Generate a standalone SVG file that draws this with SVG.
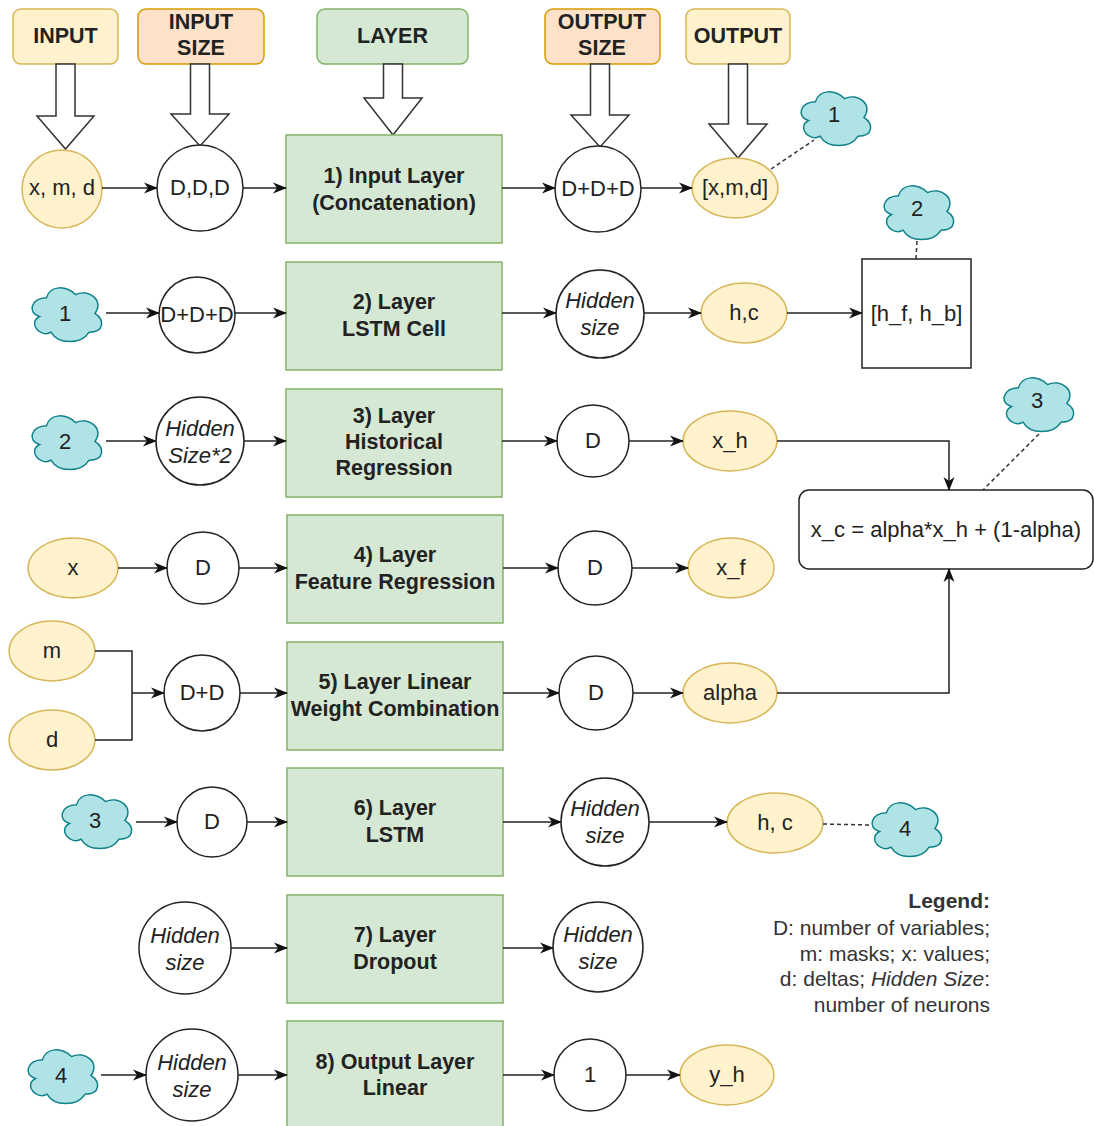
<svg xmlns="http://www.w3.org/2000/svg" width="1094" height="1126" viewBox="0 0 1094 1126">
<style>
text{font-family:"Liberation Sans",Arial,sans-serif;fill:#222;dominant-baseline:central;text-anchor:middle}
.t{font-size:22px}
.b{font-size:21.5px;font-weight:bold}
.h{font-size:21.5px;font-weight:bold}
.i{font-style:italic}
.hdrY{fill:#fff2cc;stroke:#d6b656;stroke-width:1.5}
.hdrO{fill:#fde2c9;stroke:#d79b00;stroke-width:1.5}
.hdrG{fill:#d5e8d4;stroke:#82b366;stroke-width:1.5}
.layer{fill:#d5e8d4;stroke:#82b366;stroke-width:1.5}
.ell{fill:#fff2cc;stroke:#d6b656;stroke-width:1.5}
.circ{fill:#fff;stroke:#222;stroke-width:1.5}
.box{fill:#fff;stroke:#222;stroke-width:1.5}
.cloud{fill:#b0e3e6;stroke:#0e8088;stroke-width:1.5}
.blk{fill:#fff;stroke:#333;stroke-width:1.5}
.c{fill:none;stroke:#222;stroke-width:1.5}
.d{fill:none;stroke:#333;stroke-width:1.5;stroke-dasharray:4 3}
.lg{font-size:21px;text-anchor:end;fill:#333}
</style>
<defs>
<marker id="arr" viewBox="0 0 14 12" refX="13" refY="6" markerWidth="14" markerHeight="12" orient="auto" markerUnits="userSpaceOnUse">
<path d="M0,0.5 L14,6 L0,11.5 L4,6 Z" fill="#111"/>
</marker>
<path id="cl" d="M20 16 C4 16 0 32 12.8 35.2 C0 42.24 14.4 57.6 24.8 51.2 C32 64 56 64 64 51.2 C80 51.2 80 38.4 70 32 C80 19.2 64 6.4 50 12.8 C40 3.2 24 3.2 20 16 Z"/>
</defs>

<!-- headers -->
<g id="hdr-input"><rect class="hdrY" x="13" y="9" width="105" height="55" rx="8"/><text class="h" x="65.5" y="36">INPUT</text></g>
<g id="hdr-input-size"><rect class="hdrO" x="138" y="9" width="126" height="55" rx="8"/><text class="h" x="201" y="22">INPUT</text><text class="h" x="201" y="48">SIZE</text></g>
<g id="hdr-layer"><rect class="hdrG" x="317" y="9" width="151" height="55" rx="8"/><text class="h" x="392.5" y="36">LAYER</text></g>
<g id="hdr-output-size"><rect class="hdrO" x="545" y="9" width="115" height="55" rx="8"/><text class="h" x="602" y="22">OUTPUT</text><text class="h" x="602" y="48">SIZE</text></g>
<g id="hdr-output"><rect class="hdrY" x="686" y="9" width="104" height="55" rx="8"/><text class="h" x="738" y="36">OUTPUT</text></g>

<!-- block arrows -->
<g id="block-arrows">
<polygon class="blk" points="56,64 75,64 75,116 94,116 65.5,149 37,116 56,116"/>
<polygon class="blk" points="190.5,64 209.5,64 209.5,114 229,114 200,146 171,114 190.5,114"/>
<polygon class="blk" points="383.5,64 402.5,64 402.5,98 422,98 393,135 364,98 383.5,98"/>
<polygon class="blk" points="590.5,64 609.5,64 609.5,115 629,115 600,147 571,115 590.5,115"/>
<polygon class="blk" points="728.5,64 747.5,64 747.5,124 767,124 738,158 709,124 728.5,124"/>
</g>

<!-- layers -->
<g id="layer1"><rect class="layer" x="286" y="135" width="216" height="108"/><text class="b" x="394" y="176">1) Input Layer</text><text class="b" x="394" y="203">(Concatenation)</text></g>
<g id="layer2"><rect class="layer" x="286" y="262" width="216" height="108"/><text class="b" x="394" y="302">2) Layer</text><text class="b" x="394" y="329">LSTM Cell</text></g>
<g id="layer3"><rect class="layer" x="286" y="389" width="216" height="108"/><text class="b" x="394" y="416">3) Layer</text><text class="b" x="394" y="442">Historical</text><text class="b" x="394" y="468">Regression</text></g>
<g id="layer4"><rect class="layer" x="287" y="515" width="216" height="108"/><text class="b" x="395" y="555">4) Layer</text><text class="b" x="395" y="582">Feature Regression</text></g>
<g id="layer5"><rect class="layer" x="287" y="642" width="216" height="108"/><text class="b" x="395" y="682">5) Layer Linear</text><text class="b" x="395" y="709">Weight Combination</text></g>
<g id="layer6"><rect class="layer" x="287" y="768" width="216" height="108"/><text class="b" x="395" y="808">6) Layer</text><text class="b" x="395" y="835">LSTM</text></g>
<g id="layer7"><rect class="layer" x="287" y="895" width="216" height="108"/><text class="b" x="395" y="935">7) Layer</text><text class="b" x="395" y="962">Dropout</text></g>
<g id="layer8"><rect class="layer" x="287" y="1021" width="216" height="110"/><text class="b" x="395" y="1062">8) Output Layer</text><text class="b" x="395" y="1088">Linear</text></g>

<!-- ellipses -->
<g id="e-xmd"><ellipse class="ell" cx="62" cy="189" rx="40" ry="39"/><text class="t" x="62" y="187">x, m, d</text></g>
<g id="e-xmd-out"><ellipse class="ell" cx="735" cy="188" rx="43" ry="30"/><text class="t" x="735" y="187">[x,m,d]</text></g>
<g id="e-hc"><ellipse class="ell" cx="744" cy="313" rx="43" ry="30"/><text class="t" x="744" y="312">h,c</text></g>
<g id="e-xh"><ellipse class="ell" cx="730" cy="441" rx="47" ry="30"/><text class="t" x="730" y="440">x_h</text></g>
<g id="e-x"><ellipse class="ell" cx="73" cy="568" rx="45" ry="30"/><text class="t" x="73" y="567">x</text></g>
<g id="e-xf"><ellipse class="ell" cx="731" cy="568" rx="43" ry="30"/><text class="t" x="731" y="567">x_f</text></g>
<g id="e-m"><ellipse class="ell" cx="52" cy="651" rx="43" ry="30"/><text class="t" x="52" y="650">m</text></g>
<g id="e-d"><ellipse class="ell" cx="52" cy="740" rx="43" ry="30"/><text class="t" x="52" y="739">d</text></g>
<g id="e-alpha"><ellipse class="ell" cx="730" cy="693" rx="47" ry="30"/><text class="t" x="730" y="692">alpha</text></g>
<g id="e-hc2"><ellipse class="ell" cx="775" cy="823" rx="48" ry="30"/><text class="t" x="775" y="822">h, c</text></g>
<g id="e-yh"><ellipse class="ell" cx="727" cy="1075" rx="47" ry="30"/><text class="t" x="727" y="1074">y_h</text></g>

<!-- circles -->
<g id="c-ddd"><circle class="circ" cx="200" cy="188" r="43"/><text class="t" x="200" y="187">D,D,D</text></g>
<g id="c-dpdpd-out"><circle class="circ" cx="598" cy="189" r="43"/><text class="t" x="598" y="188">D+D+D</text></g>
<g id="c-dpdpd-in"><circle class="circ" cx="197" cy="315" r="38"/><text class="t" x="197" y="314">D+D+D</text></g>
<g id="c-hidden2"><circle class="circ" cx="600" cy="314" r="44"/><text class="t i" x="600" y="300">Hidden</text><text class="t i" x="600" y="327">size</text></g>
<g id="c-hs2"><circle class="circ" cx="200" cy="441" r="44"/><text class="t i" x="200" y="428">Hidden</text><text class="t i" x="200" y="455">Size*2</text></g>
<g id="c-d3"><circle class="circ" cx="593" cy="441" r="36"/><text class="t" x="593" y="440">D</text></g>
<g id="c-d4in"><circle class="circ" cx="203" cy="568" r="36"/><text class="t" x="203" y="567">D</text></g>
<g id="c-d4out"><circle class="circ" cx="595" cy="568" r="37"/><text class="t" x="595" y="567">D</text></g>
<g id="c-dpd"><circle class="circ" cx="202" cy="693" r="38"/><text class="t" x="202" y="692">D+D</text></g>
<g id="c-d5out"><circle class="circ" cx="596" cy="693" r="37"/><text class="t" x="596" y="692">D</text></g>
<g id="c-d6in"><circle class="circ" cx="212" cy="822" r="35"/><text class="t" x="212" y="821">D</text></g>
<g id="c-hidden6"><circle class="circ" cx="605" cy="822" r="44"/><text class="t i" x="605" y="808">Hidden</text><text class="t i" x="605" y="835">size</text></g>
<g id="c-hidden7in"><circle class="circ" cx="185" cy="948" r="46"/><text class="t i" x="185" y="935">Hidden</text><text class="t i" x="185" y="962">size</text></g>
<g id="c-hidden7out"><circle class="circ" cx="598" cy="947" r="45"/><text class="t i" x="598" y="934">Hidden</text><text class="t i" x="598" y="961">size</text></g>
<g id="c-hidden8"><circle class="circ" cx="192" cy="1075" r="46"/><text class="t i" x="192" y="1062">Hidden</text><text class="t i" x="192" y="1089">size</text></g>
<g id="c-one"><circle class="circ" cx="590" cy="1075" r="36"/><text class="t" x="590" y="1074">1</text></g>

<!-- boxes -->
<g id="b-hfhb"><rect class="box" x="862" y="259" width="109" height="109"/><text class="t" x="916.5" y="313">[h_f, h_b]</text></g>
<g id="b-formula"><rect class="box" x="799" y="490" width="294" height="79" rx="10"/><text class="t" x="946" y="529">x_c = alpha*x_h + (1-alpha)</text></g>

<!-- clouds -->
<g id="cloud1-out"><use href="#cl" class="cloud" transform="translate(796,86) scale(0.97,0.98)"/><text class="t" x="834" y="114">1</text></g>
<g id="cloud2-out"><use href="#cl" class="cloud" transform="translate(879,180) scale(0.97,0.98)"/><text class="t" x="917" y="208">2</text></g>
<g id="cloud3-out"><use href="#cl" class="cloud" transform="translate(999,372) scale(0.97,0.98)"/><text class="t" x="1037" y="400">3</text></g>
<g id="cloud4-out"><use href="#cl" class="cloud" transform="translate(867,797) scale(0.97,0.98)"/><text class="t" x="905" y="828">4</text></g>
<g id="cloud1-in"><use href="#cl" class="cloud" transform="translate(27,282) scale(0.97,0.98)"/><text class="t" x="65" y="313">1</text></g>
<g id="cloud2-in"><use href="#cl" class="cloud" transform="translate(27,410) scale(0.97,0.98)"/><text class="t" x="65" y="441">2</text></g>
<g id="cloud3-in"><use href="#cl" class="cloud" transform="translate(57,789) scale(0.97,0.98)"/><text class="t" x="95" y="820">3</text></g>
<g id="cloud4-in"><use href="#cl" class="cloud" transform="translate(23,1044) scale(0.97,0.98)"/><text class="t" x="61" y="1075">4</text></g>

<!-- connectors -->
<g id="connectors">
<line class="c" x1="102" y1="188" x2="157" y2="188" marker-end="url(#arr)"/>
<line class="c" x1="243" y1="188" x2="286" y2="188" marker-end="url(#arr)"/>
<line class="c" x1="502" y1="188" x2="555" y2="188" marker-end="url(#arr)"/>
<line class="c" x1="641" y1="188" x2="692" y2="188" marker-end="url(#arr)"/>
<line class="d" x1="771" y1="169" x2="814" y2="140"/>

<line class="c" x1="106" y1="313" x2="159" y2="313" marker-end="url(#arr)"/>
<line class="c" x1="235" y1="313" x2="286" y2="313" marker-end="url(#arr)"/>
<line class="c" x1="502" y1="313" x2="556" y2="313" marker-end="url(#arr)"/>
<line class="c" x1="644" y1="313" x2="701" y2="313" marker-end="url(#arr)"/>
<line class="c" x1="787" y1="313" x2="862" y2="313" marker-end="url(#arr)"/>
<line class="d" x1="917" y1="241" x2="916" y2="259"/>

<line class="c" x1="106" y1="441" x2="156" y2="441" marker-end="url(#arr)"/>
<line class="c" x1="244" y1="441" x2="286" y2="441" marker-end="url(#arr)"/>
<line class="c" x1="502" y1="441" x2="557" y2="441" marker-end="url(#arr)"/>
<line class="c" x1="629" y1="441" x2="683" y2="441" marker-end="url(#arr)"/>
<polyline class="c" points="777,441 949,441 949,490" marker-end="url(#arr)"/>
<line class="d" x1="1039" y1="434" x2="983" y2="490"/>

<line class="c" x1="118" y1="568" x2="167" y2="568" marker-end="url(#arr)"/>
<line class="c" x1="239" y1="568" x2="287" y2="568" marker-end="url(#arr)"/>
<line class="c" x1="503" y1="568" x2="558" y2="568" marker-end="url(#arr)"/>
<line class="c" x1="632" y1="568" x2="688" y2="568" marker-end="url(#arr)"/>

<polyline class="c" points="95,651 132,651 132,740 95,740"/>
<line class="c" x1="132" y1="693" x2="164" y2="693" marker-end="url(#arr)"/>
<line class="c" x1="240" y1="693" x2="287" y2="693" marker-end="url(#arr)"/>
<line class="c" x1="503" y1="693" x2="559" y2="693" marker-end="url(#arr)"/>
<line class="c" x1="633" y1="693" x2="683" y2="693" marker-end="url(#arr)"/>
<polyline class="c" points="777,693 949,693 949,569" marker-end="url(#arr)"/>

<line class="c" x1="136" y1="822" x2="177" y2="822" marker-end="url(#arr)"/>
<line class="c" x1="247" y1="822" x2="287" y2="822" marker-end="url(#arr)"/>
<line class="c" x1="503" y1="822" x2="561" y2="822" marker-end="url(#arr)"/>
<line class="c" x1="649" y1="822" x2="727" y2="822" marker-end="url(#arr)"/>
<line class="d" x1="823" y1="824" x2="870" y2="825"/>

<line class="c" x1="231" y1="948" x2="287" y2="948" marker-end="url(#arr)"/>
<line class="c" x1="503" y1="948" x2="553" y2="948" marker-end="url(#arr)"/>

<line class="c" x1="101" y1="1075" x2="146" y2="1075" marker-end="url(#arr)"/>
<line class="c" x1="238" y1="1075" x2="287" y2="1075" marker-end="url(#arr)"/>
<line class="c" x1="503" y1="1075" x2="554" y2="1075" marker-end="url(#arr)"/>
<line class="c" x1="626" y1="1075" x2="680" y2="1075" marker-end="url(#arr)"/>
</g>

<!-- legend -->
<g id="legend">
<text class="lg" x="990" y="900" font-weight="bold">Legend:</text>
<text class="lg" x="990" y="927">D: number of variables;</text>
<text class="lg" x="990" y="953">m: masks; x: values;</text>
<text class="lg" x="990" y="978">d: deltas; <tspan font-style="italic">Hidden Size</tspan>:</text>
<text class="lg" x="990" y="1004">number of neurons</text>
</g>
</svg>
